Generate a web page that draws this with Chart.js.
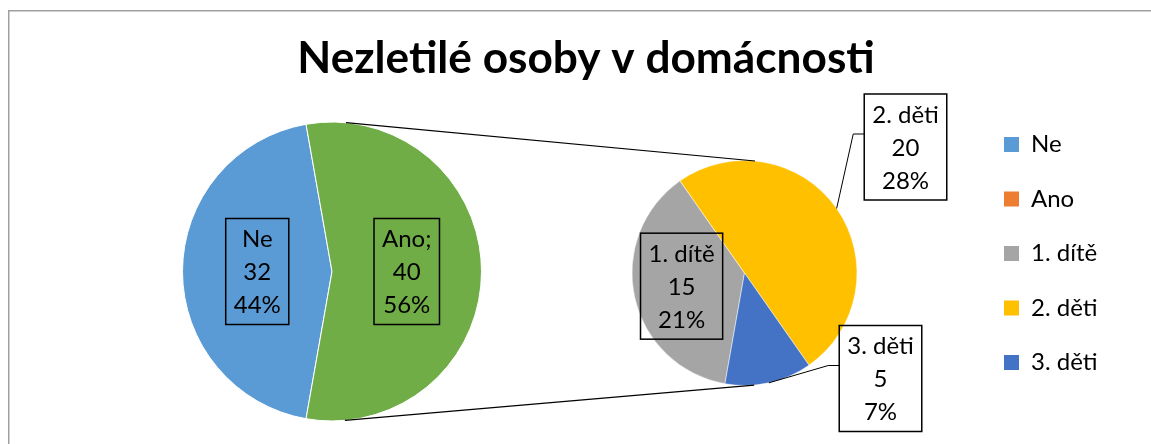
<!DOCTYPE html>
<html>
<head>
<meta charset="utf-8">
<script src="https://cdn.jsdelivr.net/npm/chart.js@4.4.0/dist/chart.umd.min.js"></script>
<style>
  html, body { margin: 0; padding: 0; background: #fff; }
  #wrap { position: relative; width: 1151px; height: 444px; overflow: hidden; }
  #wrap canvas { position: absolute; left: 0; top: 0; }
</style>
</head>
<body>
<div id="wrap">
  <canvas id="mainPie" width="1151" height="444"></canvas>
  <canvas id="subPie" width="1151" height="444"></canvas>
</div>
<script>
// data
const chartTitle = 'Nezletilé osoby v domácnosti';
const mainLabels = ['Ne', 'Ano'];
const mainValues = [32, 40];
const subLabels = ['1. dítě', '2. děti', '3. děti'];
const subValues = [15, 20, 5];
const legendLabels = mainLabels.concat(subLabels);

// colours
const mainColors = ['#5B9BD5', '#70AD47'];
const subColors = ['#A5A5A5', '#FFC000', '#4472C4'];
const legendColors = ['#5B9BD5', '#ED7D31', '#A5A5A5', '#FFC000', '#4472C4'];

const FONT = 'Lato, "Open Sans", sans-serif';
const total = mainValues.reduce((a, b) => a + b, 0);
const pct = v => Math.round(v / total * 100) + '%';

// where the labels of the small pie go (offset from pie centre), null = inside the slice
const subLabelOffsets = [null, [161, -126], [136, 105.5]];

function drawBox(ctx, cx, cy, lines) {
  ctx.save();
  ctx.font = '24px ' + FONT;
  const lh = 33;
  const w = Math.max(...lines.map(t => ctx.measureText(t).width)) + 16;
  const h = lines.length * lh + 7;
  const box = { left: cx - w / 2, top: cy - h / 2, w: w, h: h };
  ctx.lineWidth = 1.5;
  ctx.strokeStyle = '#000';
  ctx.strokeRect(box.left, box.top, w, h);
  ctx.fillStyle = '#000';
  ctx.textAlign = 'center';
  ctx.textBaseline = 'middle';
  lines.forEach((t, i) => ctx.fillText(t, cx, cy + (i - (lines.length - 1) / 2) * lh + 1));
  ctx.restore();
  return box;
}

const framePlugin = {
  id: 'frame',
  beforeDraw(chart) {
    const ctx = chart.ctx;
    ctx.save();
    ctx.strokeStyle = '#A0A0A0';
    ctx.lineWidth = 1.5;
    ctx.strokeRect(8.75, 10.75, 2000, 2000);
    // title
    ctx.font = 'bold 40px ' + FONT;
    const size = 40 * 578 / ctx.measureText(chartTitle).width;
    ctx.font = 'bold ' + size.toFixed(1) + 'px ' + FONT;
    ctx.fillStyle = '#000';
    ctx.textAlign = 'center';
    ctx.textBaseline = 'alphabetic';
    ctx.fillText(chartTitle, 586, 73);
    ctx.restore();
  }
};

const mainLabelPlugin = {
  id: 'mainLabels',
  afterDatasetsDraw(chart) {
    const ctx = chart.ctx;
    chart.getDatasetMeta(0).data.forEach((arc, i) => {
      const p = arc.tooltipPosition();
      const name = mainLabels[i] + (i === 1 ? ';' : '');
      drawBox(ctx, p.x, p.y, [name, String(mainValues[i]), pct(mainValues[i])]);
    });
  }
};

const mainChart = new Chart(document.getElementById('mainPie'), {
  type: 'pie',
  data: {
    labels: mainLabels,
    datasets: [{
      data: mainValues,
      backgroundColor: mainColors,
      borderColor: '#fff',
      borderWidth: 1,
      radius: 149.5,
      rotation: 190
    }]
  },
  options: {
    responsive: false,
    animation: false,
    layout: { padding: { left: 0, right: 487, top: 99, bottom: 0 } },
    plugins: { legend: { display: false }, tooltip: { enabled: false } }
  },
  plugins: [framePlugin, mainLabelPlugin]
});

const subLabelPlugin = {
  id: 'subLabels',
  afterDatasetsDraw(chart) {
    const ctx = chart.ctx;
    const arcs = chart.getDatasetMeta(0).data;
    // connector lines: outer tangents of the two pies
    const a = mainChart.getDatasetMeta(0).data[0];
    const b = arcs[0];
    const dx = b.x - a.x, dy = b.y - a.y, d = Math.hypot(dx, dy);
    const ux = dx / d, uy = dy / d;
    const k = (a.outerRadius - b.outerRadius) / d, s = Math.sqrt(1 - k * k);
    ctx.save();
    ctx.strokeStyle = '#000';
    ctx.lineWidth = 1.2;
    [-1, 1].forEach(sign => {
      const nx = ux * k - uy * s * sign, ny = uy * k + ux * s * sign;
      ctx.beginPath();
      ctx.moveTo(a.x + a.outerRadius * nx, a.y + a.outerRadius * ny);
      ctx.lineTo(b.x + b.outerRadius * nx, b.y + b.outerRadius * ny);
      ctx.stroke();
    });
    ctx.restore();

    arcs.forEach((arc, i) => {
      const lines = [subLabels[i], String(subValues[i]), pct(subValues[i])];
      const off = subLabelOffsets[i];
      if (!off) {
        const p = arc.tooltipPosition();
        drawBox(ctx, p.x - 8, p.y + 1, lines);
        return;
      }
      const box = drawBox(ctx, arc.x + off[0], arc.y + off[1], lines);
      const mid = (arc.startAngle + arc.endAngle) / 2;
      ctx.save();
      ctx.strokeStyle = '#000';
      ctx.lineWidth = 1;
      ctx.beginPath();
      ctx.moveTo(box.left, box.top + 40);
      ctx.lineTo(box.left - 11, box.top + 40);
      ctx.lineTo(arc.x + arc.outerRadius * Math.cos(mid), arc.y + arc.outerRadius * Math.sin(mid));
      ctx.stroke();
      ctx.restore();
    });
  }
};

// legend geometry: keep its left edge where the reference has it
const legendFontSize = 24, legendBox = 15, legendPad = 30.5;
const measure = document.createElement('canvas').getContext('2d');
measure.font = legendFontSize + 'px ' + FONT;
const legendTextW = Math.max(...legendLabels.map(t => measure.measureText(t).width));
const legendW = legendPad + legendBox + legendFontSize / 2 + legendTextW + 10;
const legendLeft = 1004 - legendPad;
const subCenterX = 744.5;

const subChart = new Chart(document.getElementById('subPie'), {
  type: 'pie',
  data: {
    labels: subLabels,
    datasets: [{
      data: subValues,
      backgroundColor: subColors,
      borderColor: '#fff',
      borderWidth: 0.5,
      radius: 112.5,
      rotation: 190
    }]
  },
  options: {
    responsive: false,
    animation: false,
    layout: {
      padding: {
        left: 2 * subCenterX - legendLeft,
        right: 1151 - legendLeft - legendW,
        top: 102,
        bottom: -1
      }
    },
    plugins: {
      tooltip: { enabled: false },
      legend: {
        position: 'right',
        align: 'start',
        labels: {
          boxWidth: legendBox,
          boxHeight: legendBox,
          padding: legendPad,
          color: '#000',
          font: { family: FONT, size: legendFontSize },
          generateLabels: () => legendLabels.map((t, i) => ({
            text: t,
            fillStyle: legendColors[i],
            strokeStyle: legendColors[i],
            lineWidth: 0,
            hidden: false,
            index: i
          }))
        }
      }
    }
  },
  plugins: [subLabelPlugin]
});
</script>
</body>
</html>
